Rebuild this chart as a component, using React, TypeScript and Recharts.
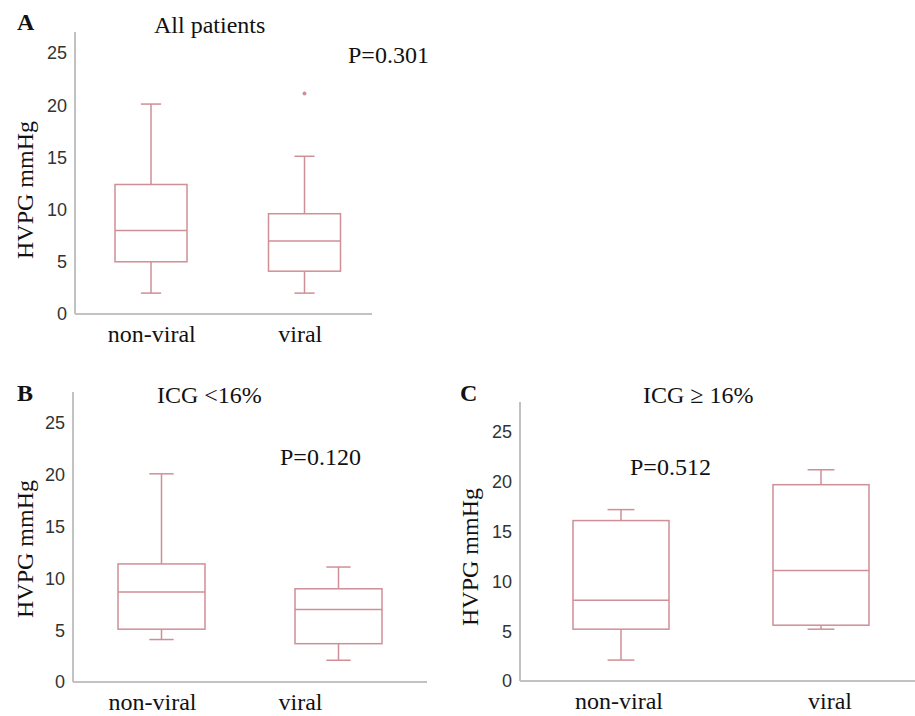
import { ComposedChart, Bar, XAxis, YAxis } from "recharts";

const categories = ["non-viral", "viral"];
const yTicks = [0, 5, 10, 15, 20, 25];

// A - all patients
const allMin = [2.0, 2.0];
const allQ1 = [5.0, 4.1];
const allMedian = [8.0, 7.0];
const allQ3 = [12.4, 9.6];
const allMax = [20.1, 15.1];
const allOutliers = [null, 21.1];

// B - ICG <16%
const lowMin = [4.1, 2.1];
const lowQ1 = [5.1, 3.7];
const lowMedian = [8.7, 7.0];
const lowQ3 = [11.4, 9.0];
const lowMax = [20.1, 11.1];

// C - ICG >= 16%
const highMin = [2.1, 5.2];
const highQ1 = [5.2, 5.6];
const highMedian = [8.1, 11.1];
const highQ3 = [16.1, 19.7];
const highMax = [17.2, 21.2];

const boxColor = "#cf8f96";
const axisColor = "#c2c2c2";
const serif = "'Liberation Serif', 'Times New Roman', serif";
const sans = "'Liberation Sans', Arial, sans-serif";

function buildRows(
  min: number[],
  q1: number[],
  med: number[],
  q3: number[],
  max: number[],
  out?: (number | null)[]
) {
  return categories.map((name, i) => ({
    name,
    min: min[i],
    q1: q1[i],
    median: med[i],
    q3: q3[i],
    max: max[i],
    outlier: out ? out[i] : null,
  }));
}

const allRows = buildRows(allMin, allQ1, allMedian, allQ3, allMax, allOutliers);
const lowRows = buildRows(lowMin, lowQ1, lowMedian, lowQ3, lowMax);
const highRows = buildRows(highMin, highQ1, highMedian, highQ3, highMax);

// box drawn over the [min, max] range bar, other stats placed on the same scale
const BoxShape = (props: any) => {
  const { x, y, width, height, payload } = props;
  const top = Math.min(y, y + height);
  const h = Math.abs(height);
  const span = payload.max - payload.min;
  const py = (v: number) => top + (h * (payload.max - v)) / span;
  const cx = x + width / 2;
  const cap = width * 0.28;
  return (
    <g stroke={boxColor} strokeWidth={1.5} fill="none">
      <line x1={cx} x2={cx} y1={py(payload.max)} y2={py(payload.q3)} />
      <line x1={cx} x2={cx} y1={py(payload.q1)} y2={py(payload.min)} />
      <line x1={cx - cap / 2} x2={cx + cap / 2} y1={py(payload.max)} y2={py(payload.max)} />
      <line x1={cx - cap / 2} x2={cx + cap / 2} y1={py(payload.min)} y2={py(payload.min)} />
      <rect x={x} y={py(payload.q3)} width={width} height={py(payload.q1) - py(payload.q3)} fill="#fff" />
      <line x1={x} x2={x + width} y1={py(payload.median)} y2={py(payload.median)} />
      {payload.outlier != null && (
        <circle cx={cx} cy={py(payload.outlier)} r={2} fill={boxColor} stroke="none" />
      )}
    </g>
  );
};

interface PanelProps {
  rows: any[];
  left: number;
  top: number;
  width: number;
  height: number;
  margin: { top: number; right: number; bottom: number; left: number };
  yMax: number;
  barSize: number;
  padding: { left: number; right: number };
  labelShift: number[];
}

function Panel({ rows, left, top, width, height, margin, yMax, barSize, padding, labelShift }: PanelProps) {
  const renderTick = (p: any) => (
    <text
      x={p.x + (labelShift[p.index] || 0)}
      y={p.y + 20}
      textAnchor="middle"
      fontFamily={serif}
      fontSize={24}
      fill="#111"
    >
      {p.payload.value}
    </text>
  );
  return (
    <div style={{ position: "absolute", left, top }}>
      <ComposedChart width={width} height={height} data={rows} margin={margin}>
        <XAxis
          dataKey="name"
          height={30}
          padding={padding}
          tickLine={false}
          axisLine={{ stroke: axisColor, strokeWidth: 2 }}
          tick={renderTick}
        />
        <YAxis
          width={45}
          domain={[0, yMax]}
          ticks={yTicks}
          tickLine={false}
          axisLine={{ stroke: axisColor, strokeWidth: 2 }}
          tick={{ fontFamily: sans, fontSize: 18, fill: "#333" }}
        />
        <Bar
          dataKey={(d: any) => [d.min, d.max]}
          barSize={barSize}
          shape={BoxShape}
          isAnimationActive={false}
        />
      </ComposedChart>
    </div>
  );
}

export default function App() {
  return (
    <div style={{ position: "absolute", left: 0, top: 0, width: 915, height: 716, background: "#fff" }}>
      <Panel
        rows={allRows}
        left={0}
        top={0}
        width={380}
        height={350}
        margin={{ top: 32, right: 8, bottom: 6, left: 30 }}
        yMax={27}
        barSize={72}
        padding={{ left: -1, right: -9 }}
        labelShift={[1, -4]}
      />
      <Panel
        rows={lowRows}
        left={0}
        top={360}
        width={435}
        height={356}
        margin={{ top: 32, right: 8, bottom: 4, left: 28 }}
        yMax={28}
        barSize={87}
        padding={{ left: 0, right: 0 }}
        labelShift={[-9, -38]}
      />
      <Panel
        rows={highRows}
        left={440}
        top={360}
        width={475}
        height={356}
        margin={{ top: 42, right: 0, bottom: 5, left: 35 }}
        yMax={28}
        barSize={96}
        padding={{ left: 1, right: -6 }}
        labelShift={[-2, 9]}
      />
      <svg
        width={915}
        height={716}
        style={{ position: "absolute", left: 0, top: 0, pointerEvents: "none" }}
        fontFamily={serif}
        fontSize={24}
        fill="#111"
      >
        <text x={17} y={30} fontWeight="bold">A</text>
        <text x={154} y={33}>All patients</text>
        <text x={348} y={63}>P=0.301</text>
        <text transform="translate(33,190) rotate(-90)" textAnchor="middle">HVPG mmHg</text>

        <text x={17} y={401} fontWeight="bold">B</text>
        <text x={157} y={403}>ICG &lt;16%</text>
        <text x={280} y={465}>P=0.120</text>
        <text transform="translate(33,549) rotate(-90)" textAnchor="middle">HVPG mmHg</text>

        <text x={460} y={401} fontWeight="bold">C</text>
        <text x={643} y={403}>ICG ≥ 16%</text>
        <text x={630} y={475}>P=0.512</text>
        <text transform="translate(478,557) rotate(-90)" textAnchor="middle">HVPG mmHg</text>
      </svg>
    </div>
  );
}
